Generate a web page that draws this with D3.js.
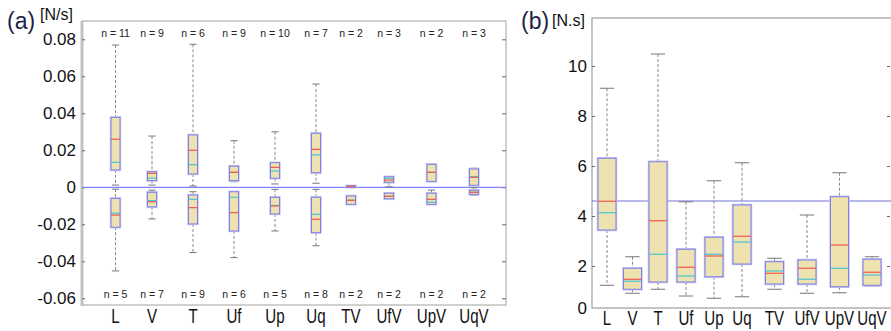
<!DOCTYPE html>
<html>
<head>
<meta charset="utf-8">
<script src="https://cdn.jsdelivr.net/npm/d3@7"></script>
<style>
  body { margin: 0; background: #fff; }
  svg { display: block; font-family: "Liberation Sans", Arial, sans-serif; }
</style>
</head>
<body>
<svg id="chart" width="891" height="331"></svg>
<script>
// categories and sample counts
var cats = ["L", "V", "T", "Uf", "Up", "Uq", "TV", "UfV", "UpV", "UqV"];
var nTopA = [11, 9, 6, 9, 10, 7, 2, 3, 2, 3];
var nBotA = [5, 7, 9, 6, 5, 8, 2, 2, 2, 2];

// box stats: [low whisker, q1, median, mean, q3, high whisker]
var posA = [
  [0.0012, 0.0094, 0.0260, 0.0135, 0.0378, 0.0769],
  [0.0012, 0.0036, 0.0076, 0.0049, 0.0084, 0.0277],
  [0.0007, 0.0072, 0.0200, 0.0122, 0.0283, 0.0773],
  [0.0030, 0.0036, 0.0081, 0.0081, 0.0114, 0.0252],
  [0.0018, 0.0049, 0.0108, 0.0088, 0.0133, 0.0300],
  [0.0022, 0.0079, 0.0205, 0.0175, 0.0292, 0.0558],
  [0.0001, 0.0001, 0.0005, 0.0005, 0.0008, 0.0008],
  [0.0003, 0.0027, 0.0039, 0.0049, 0.0057, 0.0057],
  [0.0032, 0.0032, 0.0081, 0.0081, 0.0124, 0.0124],
  [0.0011, 0.0011, 0.0054, 0.0057, 0.0099, 0.0103]
];
var negA = [
  [-0.0452, -0.0216, -0.0150, -0.0140, -0.0060, -0.0010],
  [-0.0171, -0.0106, -0.0078, -0.0072, -0.0027, -0.0015],
  [-0.0353, -0.0198, -0.0110, -0.0065, -0.0042, -0.0024],
  [-0.0380, -0.0236, -0.0137, -0.0054, -0.0024, -0.0024],
  [-0.0236, -0.0144, -0.0101, -0.0098, -0.0054, -0.0011],
  [-0.0316, -0.0245, -0.0173, -0.0146, -0.0054, -0.0011],
  [-0.0092, -0.0092, -0.0070, -0.0070, -0.0047, -0.0047],
  [-0.0062, -0.0062, -0.0049, -0.0049, -0.0032, -0.0032],
  [-0.0092, -0.0092, -0.0065, -0.0081, -0.0032, -0.0015],
  [-0.0043, -0.0038, -0.0027, -0.0027, -0.0016, -0.0002]
];
var boxB = [
  [1.23, 3.44, 4.59, 4.13, 6.31, 9.11],
  [0.91, 1.07, 1.47, 1.39, 1.91, 2.37],
  [1.07, 1.36, 3.81, 2.47, 6.17, 10.48],
  [0.80, 1.36, 1.95, 1.60, 2.67, 4.57],
  [0.71, 1.57, 2.40, 2.47, 3.15, 5.41],
  [0.77, 2.08, 3.19, 2.96, 4.44, 6.13],
  [1.07, 1.28, 1.71, 1.80, 2.17, 2.31],
  [0.91, 1.28, 1.91, 1.47, 2.24, 4.04],
  [0.93, 1.17, 2.84, 1.91, 4.77, 5.73],
  [1.20, 1.23, 1.75, 1.64, 2.27, 2.37]
];
var ticksA = [-0.06, -0.04, -0.02, 0, 0.02, 0.04, 0.06, 0.08];
var ticksB = [2, 4, 6, 8, 10];
var refB = 4.6;

var svg = d3.select("#chart");

var fill = "#efe2b1", edge = "#7f7fe6", medC = "#f0584a", meanC = "#48c4d4";

// draws one box at x with given y scale
function drawBox(g, d, x, y, w) {
  var cap = w * 0.4;
  g.append("line")
      .attr("x1", x).attr("x2", x)
      .attr("y1", y(d[5])).attr("y2", y(d[4]))
      .attr("stroke", "#8a8a8a").attr("stroke-dasharray", "3,2");
  g.append("line")
      .attr("x1", x).attr("x2", x)
      .attr("y1", y(d[1])).attr("y2", y(d[0]))
      .attr("stroke", "#8a8a8a").attr("stroke-dasharray", "3,2");
  [d[0], d[5]].forEach(function(v) {
    g.append("line")
        .attr("x1", x - cap).attr("x2", x + cap)
        .attr("y1", y(v)).attr("y2", y(v))
        .attr("stroke", "#777");
  });
  g.append("rect")
      .attr("x", x - w / 2).attr("width", w)
      .attr("y", y(d[4])).attr("height", Math.max(1.5, y(d[1]) - y(d[4])))
      .attr("fill", fill).attr("stroke", "#c9c9f2").attr("stroke-width", 2.5);
  g.append("rect")
      .attr("x", x - w / 2).attr("width", w)
      .attr("y", y(d[4])).attr("height", Math.max(1.5, y(d[1]) - y(d[4])))
      .attr("fill", fill).attr("stroke", edge).attr("stroke-width", 1);
  g.append("line")
      .attr("x1", x - w / 2).attr("x2", x + w / 2)
      .attr("y1", y(d[3])).attr("y2", y(d[3]))
      .attr("stroke", meanC).attr("stroke-width", 1.2);
  g.append("line")
      .attr("x1", x - w / 2).attr("x2", x + w / 2)
      .attr("y1", y(d[2])).attr("y2", y(d[2]))
      .attr("stroke", medC).attr("stroke-width", 1.2);
}

function fmt(d) { return d === 0 ? "0" : d.toFixed(2); }

// condensed category labels under a panel
function catLabels(g, x, yPos) {
  g.selectAll(null).data(cats).enter().append("text")
      .attr("transform", function(d, i) { return "translate(" + x(i) + "," + yPos + ") scale(0.72,1)"; })
      .attr("text-anchor", "middle").attr("font-size", 21).attr("fill", "#111")
      .text(function(d) { return d; });
}

// ---------- panel (a) ----------
var aL = 82, aR = 506, aT = 21, aB = 305;
var xa = d3.scaleLinear().domain([0, 1, 5, 6, 7, 9]).range([115.5, 152, 316, 351, 389, 474]);
var ya = d3.scaleLinear().domain([-0.06, 0.08]).range([298.3, 39.3]);

var ga = svg.append("g");
ga.append("rect").attr("x", aL).attr("y", aT).attr("width", aR - aL).attr("height", aB - aT)
    .attr("fill", "none").attr("stroke", "#a0a0a0");
ga.append("line").attr("x1", aL).attr("x2", aL).attr("y1", aT).attr("y2", aB + 1)
    .attr("stroke", "#c2c2c2").attr("stroke-width", 3);

var axA = ga.append("g").attr("transform", "translate(" + aL + ",0)")
    .call(d3.axisLeft(ya).tickValues(ticksA).tickSize(-3).tickPadding(6).tickFormat(fmt));
axA.select(".domain").remove();
axA.selectAll("line").attr("stroke", "#666");
axA.selectAll("text").attr("font-size", 17).attr("fill", "#111").attr("font-family", null);

var axA2 = ga.append("g").attr("transform", "translate(" + aR + ",0)")
    .call(d3.axisRight(ya).tickValues(ticksA).tickSize(-4).tickFormat(""));
axA2.select(".domain").remove();
axA2.selectAll("line").attr("stroke", "#666");

ga.append("line").attr("x1", aL).attr("x2", aR).attr("y1", ya(0)).attr("y2", ya(0))
    .attr("stroke", "#8383ff").attr("stroke-width", 1.2);

cats.forEach(function(c, i) {
  drawBox(ga, posA[i], xa(i), ya, 9);
  drawBox(ga, negA[i], xa(i), ya, 9);
});

ga.selectAll("text.ntop").data(nTopA).enter().append("text")
    .attr("x", function(d, i) { return xa(i); }).attr("y", 37)
    .attr("text-anchor", "middle").attr("font-size", 10.5).attr("fill", "#222")
    .text(function(d) { return "n = " + d; });
ga.selectAll("text.nbot").data(nBotA).enter().append("text")
    .attr("x", function(d, i) { return xa(i); }).attr("y", 298)
    .attr("text-anchor", "middle").attr("font-size", 10.5).attr("fill", "#222")
    .text(function(d) { return "n = " + d; });

catLabels(ga, xa, 323);

ga.append("text").attr("x", 7).attr("y", 29).attr("font-size", 23).attr("fill", "#1c2444").text("(a)");
ga.append("text").attr("x", 40).attr("y", 20).attr("font-size", 16).attr("fill", "#111").text("[N/s]");

// ---------- panel (b) ----------
var bL = 592, bR = 893, bT = 18, bB = 308;
var xb = d3.scaleLinear().domain([0, 2, 5, 9]).range([607, 658, 742, 872]);
var yb = d3.scaleLinear().domain([2, 10]).range([266, 66]);

var gb = svg.append("g");
gb.append("rect").attr("x", bL).attr("y", bT).attr("width", bR - bL).attr("height", bB - bT)
    .attr("fill", "none").attr("stroke", "#8a8a8a");

var axB = gb.append("g").attr("transform", "translate(" + bL + ",0)")
    .call(d3.axisLeft(yb).tickValues(ticksB).tickSize(-3).tickPadding(5));
axB.select(".domain").remove();
axB.selectAll("line").attr("stroke", "#666");
axB.selectAll("text").attr("font-size", 17).attr("fill", "#111").attr("font-family", null);
gb.append("text").attr("x", bL - 5).attr("y", bB + 6).attr("text-anchor", "end")
    .attr("font-size", 17).attr("fill", "#111").text("0");

var axB2 = gb.append("g").attr("transform", "translate(890,0)")
    .call(d3.axisRight(yb).tickValues(ticksB).tickSize(-3).tickFormat(""));
axB2.select(".domain").remove();
axB2.selectAll("line").attr("stroke", "#666");

gb.append("line").attr("x1", bL).attr("x2", bR).attr("y1", yb(refB)).attr("y2", yb(refB))
    .attr("stroke", "#7373d6").attr("stroke-width", 1.2);

cats.forEach(function(c, i) {
  drawBox(gb, boxB[i], xb(i), yb, 18);
});

catLabels(gb, xb, 325);

gb.append("text").attr("x", 521).attr("y", 29).attr("font-size", 23).attr("fill", "#1c2444").text("(b)");
gb.append("text").attr("x", 552).attr("y", 26).attr("font-size", 16).attr("fill", "#111").text("[N.s]");
</script>
</body>
</html>
